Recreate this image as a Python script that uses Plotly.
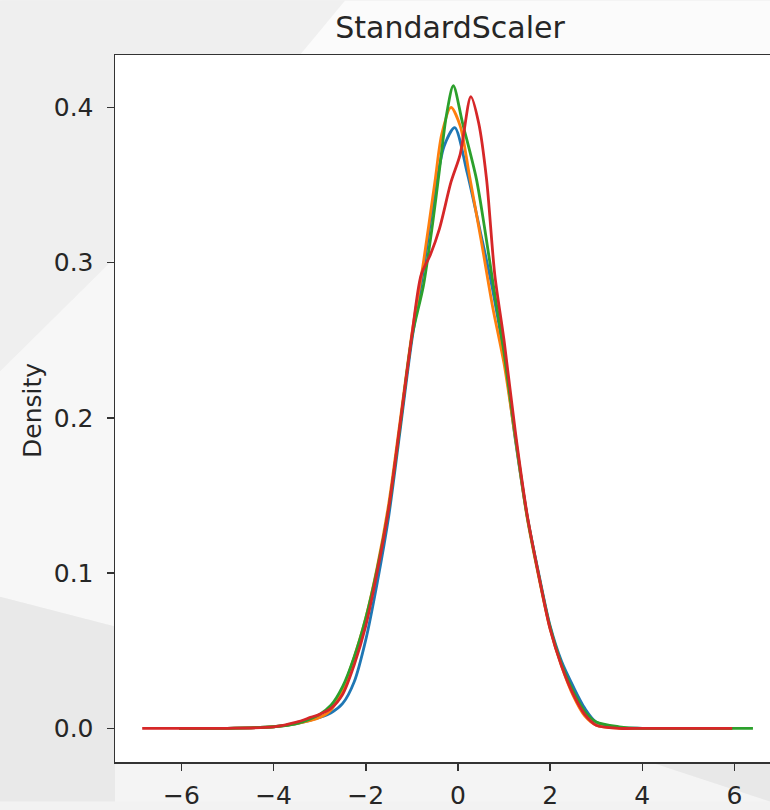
import plotly.graph_objects as go

# ---- data ----
title_text = "StandardScaler"
y_label = "Density"

x_ticks = [-6, -4, -2, 0, 2, 4, 6]
x_tick_labels = ["\u22126", "\u22124", "\u22122", "0", "2", "4", "6"]
y_ticks = [0.0, 0.1, 0.2, 0.3, 0.4]
y_tick_labels = ["0.0", "0.1", "0.2", "0.3", "0.4"]

blue_x = [-6.05, -5, -4, -3.5, -3.0, -2.75, -2.5, -2.25, -2.0, -1.75, -1.5, -1.25, -1.0, -0.75,
          -0.5, -0.3, -0.07, 0.2, 0.5, 0.75, 1.0, 1.25, 1.5, 1.75, 2.0, 2.25, 2.5, 2.75, 3.0,
          3.5, 4.0, 5.0, 5.95]
blue_y = [0, 0, 0.001, 0.003, 0.007, 0.010, 0.016, 0.030, 0.057, 0.094, 0.137, 0.193, 0.250, 0.295,
          0.345, 0.375, 0.387, 0.358, 0.318, 0.283, 0.240, 0.185, 0.137, 0.100, 0.066, 0.043, 0.027,
          0.013, 0.004, 0.0005, 0, 0, 0]

orange_x = [-6.05, -5, -4, -3.5, -3.0, -2.75, -2.5, -2.25, -2.0, -1.75, -1.5, -1.25, -1.0, -0.75,
            -0.5, -0.35, -0.15, 0.05, 0.25, 0.5, 0.75, 1.0, 1.25, 1.5, 1.75, 2.0, 2.25, 2.5, 2.75,
            3.0, 3.5, 4.0, 5.0, 5.95]
orange_y = [0, 0, 0.001, 0.003, 0.007, 0.012, 0.025, 0.046, 0.071, 0.104, 0.145, 0.199, 0.254, 0.300,
            0.352, 0.383, 0.400, 0.388, 0.356, 0.315, 0.272, 0.235, 0.186, 0.136, 0.098, 0.064, 0.040,
            0.021, 0.008, 0.002, 0, 0, 0, 0]

green_x = [-6.05, -5, -4, -3.5, -3.0, -2.75, -2.5, -2.25, -2.0, -1.75, -1.5, -1.25, -1.0, -0.75,
           -0.55, -0.4, -0.25, -0.1, 0.1, 0.4, 0.58, 0.75, 1.0, 1.25, 1.5, 1.75, 2.0, 2.25, 2.5,
           2.75, 3.0, 3.5, 4.0, 5.0, 6.0, 6.4]
green_y = [0, 0, 0.001, 0.003, 0.009, 0.015, 0.027, 0.046, 0.071, 0.103, 0.142, 0.196, 0.252, 0.285,
           0.325, 0.360, 0.395, 0.414, 0.390, 0.354, 0.322, 0.289, 0.242, 0.187, 0.137, 0.099, 0.065,
           0.041, 0.024, 0.011, 0.004, 0.001, 0, 0, 0, 0]

red_x = [-6.85, -6, -5, -4, -3.5, -3.2, -3.0, -2.75, -2.5, -2.25, -2.0, -1.75, -1.5, -1.25, -1.0,
         -0.8, -0.6, -0.4, -0.15, 0.05, 0.28, 0.45, 0.62, 0.8, 1.0, 1.25, 1.5, 1.75, 2.0, 2.25,
         2.5, 2.75, 3.0, 3.5, 4.0, 5.0, 5.95]
red_y = [0, 0, 0, 0.001, 0.004, 0.007, 0.009, 0.013, 0.022, 0.041, 0.066, 0.101, 0.142, 0.197, 0.253,
         0.292, 0.305, 0.322, 0.352, 0.370, 0.407, 0.390, 0.354, 0.292, 0.250, 0.190, 0.138, 0.099,
         0.064, 0.040, 0.022, 0.009, 0.002, 0, 0, 0, 0]

series = [
    ("blue", blue_x, blue_y, "#1f77b4"),
    ("orange", orange_x, orange_y, "#ff7f0e"),
    ("green", green_x, green_y, "#2ca02c"),
    ("red", red_x, red_y, "#d62728"),
]

# ---- figure ----
W, H = 770, 810
L, T, R, B = 115, 55, 0, 40
FONT = "DejaVu Sans"
TXT = "#262626"
AX = "#333333"
TICK_SIZE = 25
TITLE_SIZE = 30

fig = go.Figure()
for name, xs, ys, col in series:
    fig.add_trace(go.Scatter(x=xs, y=ys, mode="lines", name=name,
                             line=dict(color=col, width=2.8, shape="spline", smoothing=0.8),
                             showlegend=False, hoverinfo="skip"))

pw, ph = W - L - R, H - T - B


def px(xpix):
    return (xpix - L) / pw


def py(ypix):
    return (H - B - ypix) / ph


def poly(points, color):
    path = "M " + " L ".join(f"{px(a):.4f},{py(b):.4f}" for a, b in points) + " Z"
    return dict(type="path", xref="paper", yref="paper", path=path, fillcolor=color,
                line=dict(width=0), layer="below")


shapes = [
    poly([(0, 0), (300, 55), (345, 0)], "#f0f0f0"),
    poly([(345, 0), (770, 0), (770, 55), (300, 55)], "#fbfbfb"),
    poly([(0, 0), (300, 0), (300, 55), (115, 55), (115, 260), (0, 375)], "#efefef"),
    poly([(0, 375), (115, 260), (115, 633), (0, 603)], "#f7f7f7"),
    poly([(0, 603), (115, 633), (115, 810), (0, 810)], "#e9e9e9"),
    poly([(115, 770), (650, 770), (770, 810), (115, 810)], "#f4f4f4"),
    poly([(650, 770), (770, 770), (770, 810)], "#e8e8e8"),
    dict(type="rect", xref="paper", yref="paper", x0=0, x1=1, y0=0, y1=1,
         fillcolor="white", line=dict(width=0), layer="below"),
]

fig.update_layout(
    width=W, height=H,
    margin=dict(l=L, r=R, t=T, b=B, pad=0),
    paper_bgcolor="#f2f2f2",
    plot_bgcolor="white",
    font=dict(family=FONT, color=TXT, size=TICK_SIZE),
    shapes=shapes,
    title=dict(text=title_text, x=450 / W, xanchor="center", xref="container",
               y=1 - 27 / H, yanchor="middle", yref="container",
               font=dict(family=FONT, size=TITLE_SIZE, color=TXT)),
    annotations=[dict(text=y_label, xref="paper", yref="paper", x=px(33), y=py(415),
                      xanchor="center", yanchor="middle", textangle=-90, showarrow=False,
                      font=dict(family=FONT, size=TICK_SIZE, color=TXT))],
)

fig.update_xaxes(range=[-7.44, 6.77], tickvals=x_ticks, ticktext=x_tick_labels,
                 showgrid=False, zeroline=False, showline=True, mirror=True,
                 linecolor=AX, linewidth=1.5, ticks="outside", ticklen=7, tickwidth=1.5,
                 tickcolor=AX, ticklabelstandoff=3,
                 tickfont=dict(size=TICK_SIZE, color=TXT, family=FONT))
fig.update_yaxes(range=[-0.0217, 0.4338], tickvals=y_ticks, ticktext=y_tick_labels,
                 showgrid=False, zeroline=False, showline=True, mirror=False,
                 linecolor=AX, linewidth=1.5, ticks="outside", ticklen=7, tickwidth=1.5,
                 tickcolor=AX, ticklabelstandoff=8,
                 tickfont=dict(size=TICK_SIZE, color=TXT, family=FONT))

fig.write_html("out.html",
               config={"displayModeBar": False, "staticPlot": True},
               post_script="document.body.style.margin='0px';document.body.style.padding='0px';")
